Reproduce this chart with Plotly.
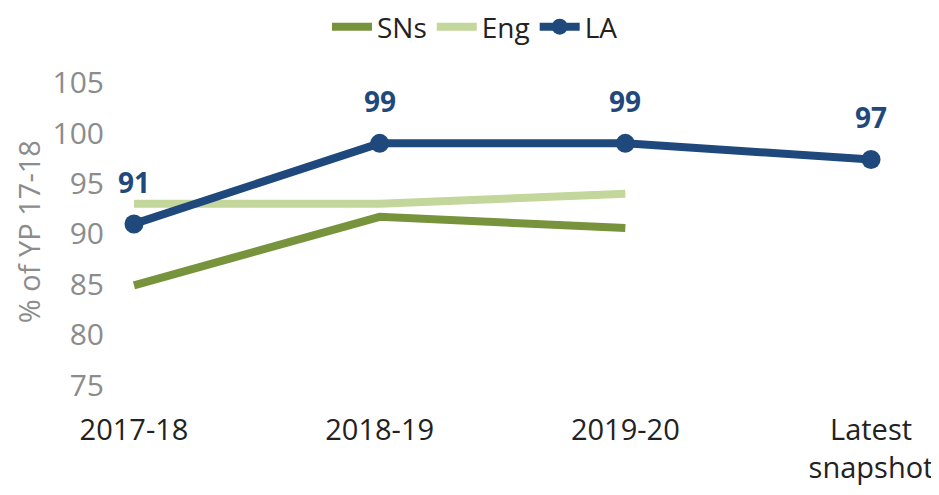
import plotly.graph_objects as go

categories = ["2017-18", "2018-19", "2019-20", "Latest<br>snapshot"]
sns_values = [84.9, 91.7, 90.6]
eng_values = [93.0, 93.0, 94.0]
la_values = [91.0, 99.0, 99.0, 97.4]
la_labels = ["91", "99", "99", "97"]
y_ticks = [75, 80, 85, 90, 95, 100, 105]
y_title = "% of YP 17-18"

C_SNS = "#77933C"
C_ENG = "#C3D69B"
C_LA = "#1F497D"
FONT = "Open Sans"

fig = go.Figure()
fig.add_trace(go.Scatter(x=categories[:len(sns_values)], y=sns_values, name="SNs",
                         mode="lines", line=dict(color=C_SNS, width=8)))
fig.add_trace(go.Scatter(x=categories[:len(eng_values)], y=eng_values, name="Eng",
                         mode="lines", line=dict(color=C_ENG, width=8)))
fig.add_trace(go.Scatter(x=categories, y=la_values, name="LA",
                         mode="lines+markers", line=dict(color=C_LA, width=8),
                         marker=dict(color=C_LA, size=19)))

for c, v, t in zip(categories, la_values, la_labels):
    fig.add_annotation(x=c, y=v, text="<b>%s</b>" % t, showarrow=False,
                       yshift=42, font=dict(family=FONT, size=28, color=C_LA))

fig.add_annotation(x=-0.092, y=0.516, xref="paper", yref="paper", text=y_title,
                   textangle=-90, showarrow=False, xanchor="center", yanchor="middle",
                   font=dict(family=FONT, size=29, color="#8C8C8C"))

fig.update_layout(
    width=931, height=487,
    margin=dict(l=97, r=10, t=57, b=85, autoexpand=False),
    plot_bgcolor="white", paper_bgcolor="white",
    font=dict(family=FONT, size=29, color="#222222"),
    showlegend=True,
    legend=dict(orientation="h", x=0.449, xanchor="center", xref="paper",
                y=0.961, yanchor="middle", yref="container",
                font=dict(family=FONT, size=28, color="#222222"),
                itemwidth=40, traceorder="normal", borderwidth=0),
)
fig.update_xaxes(type="category", range=[-0.118, 3.236], showgrid=False,
                 showline=False, zeroline=False, ticks="",
                 tickfont=dict(family=FONT, size=29, color="#222222"))
fig.update_yaxes(range=[72.52, 106.78], tickvals=y_ticks, showgrid=False,
                 showline=False, zeroline=False, ticks="",
                 tickfont=dict(family=FONT, size=30, color="#8C8C8C"))

fig.write_html("out.html")
